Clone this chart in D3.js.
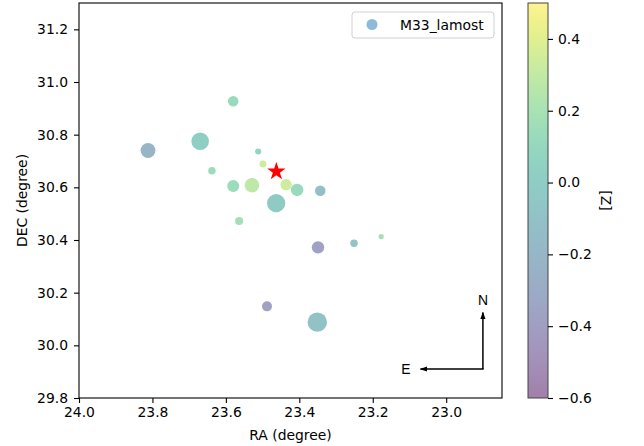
<!DOCTYPE html>
<html lang="en">

<head>
    <meta charset="UTF-8">
    <script src="https://d3js.org/d3.v7.min.js"></script>
    <title>M33 lamost</title>
    <style>
        body { margin: 0; background: #fff; }
        text { font-family: "DejaVu Sans", sans-serif; font-size: 13.9px; fill: #000; }
    </style>
</head>

<body>
    <script>
        var W = 644,
            H = 446;
        // plot box (pixels)
        var pLeft = 79, pRight = 502, pTop = 3, pBottom = 398;
        // colorbar box
        var cbLeft = 528, cbRight = 548;

        // data
        var ra = [23.812, 23.670, 23.580, 23.512, 23.499, 23.638, 23.580, 23.529, 23.436, 23.406,
            23.343, 23.463, 23.564, 23.349, 23.251, 23.177, 23.488, 23.351];
        var dec = [30.740, 30.775, 30.927, 30.736, 30.689, 30.663, 30.605, 30.608, 30.610, 30.590,
            30.587, 30.540, 30.472, 30.372, 30.388, 30.413, 30.148, 30.088];
        var feh = [-0.22, 0.02, 0.12, 0.08, 0.34, 0.14, 0.14, 0.28, 0.34, 0.13,
            -0.13, -0.02, 0.18, -0.38, -0.08, 0.18, -0.38, -0.10];
        var size = [100, 140, 50, 17, 22, 25, 65, 95, 58, 70,
            50, 150, 30, 70, 25, 12, 45, 170];
        var center = { ra: 23.4625, dec: 30.66 };
        var xTicks = [24.0, 23.8, 23.6, 23.4, 23.2, 23.0];
        var yTicks = [29.8, 30.0, 30.2, 30.4, 30.6, 30.8, 31.0, 31.2];
        var cTicks = [-0.6, -0.4, -0.2, 0.0, 0.2, 0.4];

        var svg = d3.select("body").append("svg").attr("width", W).attr("height", H);

        var x = d3.scaleLinear().domain([24.0, 22.848]).range([pLeft, pRight]);
        var y = d3.scaleLinear().domain([29.8, 31.3]).range([pBottom, pTop]);
        var c = d3.scaleLinear().domain([-0.6, 0.5]).range([pBottom, pTop]);
        var r = d3.scaleSqrt().domain([0, 170]).range([0, 9.7]);
        var fmt = function (d) { return d3.format(".1f")(d).replace("-", "\u2212"); };

        // points
        var pts = d3.range(ra.length);
        svg.append("g").selectAll("circle").data(pts).enter().append("circle")
            .attr("cx", function (i) { return x(ra[i]); })
            .attr("cy", function (i) { return y(dec[i]); })
            .attr("r", function (i) { return r(size[i]); })
            .attr("fill", function (i) { return d3.interpolateViridis((feh[i] + 0.6) / 1.1); })
            .attr("fill-opacity", 0.5);

        // red star at the centre
        var star = d3.symbol().type(d3.symbolStar).size(105);
        svg.append("path").attr("d", star())
            .attr("transform", "translate(" + x(center.ra) + "," + y(center.dec) + ")")
            .attr("fill", "red");

        // N / E arrows
        var defs = svg.append("defs");
        defs.append("marker").attr("id", "ah").attr("viewBox", "0 0 10 10")
            .attr("refX", 9).attr("refY", 5).attr("markerWidth", 5).attr("markerHeight", 5)
            .attr("orient", "auto")
            .append("path").attr("d", "M0,1.5 L10,5 L0,8.5 Z").attr("fill", "#000");
        var ax0 = x(22.9), ay0 = y(29.91);
        svg.append("line").attr("x1", ax0).attr("y1", ay0).attr("x2", ax0).attr("y2", y(30.125))
            .attr("stroke", "#000").attr("stroke-width", 1.5).attr("marker-end", "url(#ah)");
        svg.append("line").attr("x1", ax0 + 0.75).attr("y1", ay0).attr("x2", x(23.07)).attr("y2", ay0)
            .attr("stroke", "#000").attr("stroke-width", 1.5).attr("marker-end", "url(#ah)");
        svg.append("text").attr("x", ax0).attr("y", y(30.17)).attr("text-anchor", "middle")
            .attr("dy", "0.35em").style("font-family", "Liberation Sans, Arial, sans-serif").text("N");
        svg.append("text").attr("x", x(23.11)).attr("y", ay0).attr("text-anchor", "middle")
            .attr("dy", "0.35em").style("font-family", "Liberation Sans, Arial, sans-serif").text("E");

        // axes
        var xAxis = d3.axisBottom(x).tickValues(xTicks).tickFormat(fmt).tickSizeInner(5).tickSizeOuter(0).tickPadding(4);
        var yAxis = d3.axisLeft(y).tickValues(yTicks).tickFormat(fmt).tickSizeInner(5).tickSizeOuter(0).tickPadding(6);
        var gx = svg.append("g").attr("transform", "translate(0," + pBottom + ")").call(xAxis);
        var gy = svg.append("g").attr("transform", "translate(" + pLeft + ",0)").call(yAxis);
        [gx, gy].forEach(function (g) {
            g.select(".domain").remove();
            g.selectAll("text").style("font-size", "13.9px").style("font-family", "DejaVu Sans");
            g.selectAll("line").attr("stroke-width", 1.1);
        });
        svg.append("rect").attr("x", pLeft).attr("y", pTop).attr("width", pRight - pLeft).attr("height", pBottom - pTop)
            .attr("fill", "none").attr("stroke", "#000").attr("stroke-width", 1.1);

        svg.append("text").attr("x", (pLeft + pRight) / 2).attr("y", 440).attr("text-anchor", "middle").text("RA (degree)");
        svg.append("text").attr("transform", "translate(22," + (pTop + pBottom) / 2 + ") rotate(-90)")
            .attr("text-anchor", "middle").attr("dy", "0.35em").text("DEC (degree)");

        // legend
        var lg = svg.append("g");
        lg.append("rect").attr("x", 352).attr("y", 12).attr("width", 142).attr("height", 26).attr("rx", 3)
            .attr("fill", "#fff").attr("fill-opacity", 0.8).attr("stroke", "#d0d0d0");
        lg.append("circle").attr("cx", 372).attr("cy", 24.5).attr("r", 5.5)
            .attr("fill", "#1f77b4").attr("fill-opacity", 0.5);
        lg.append("text").attr("x", 400).attr("y", 29.5).text("M33_lamost");

        // colorbar
        var grad = defs.append("linearGradient").attr("id", "cg")
            .attr("x1", 0).attr("y1", 1).attr("x2", 0).attr("y2", 0);
        d3.range(0, 1.0001, 0.05).forEach(function (t) {
            grad.append("stop").attr("offset", t).attr("stop-color", d3.interpolateViridis(t));
        });
        svg.append("rect").attr("x", cbLeft).attr("y", pTop).attr("width", cbRight - cbLeft).attr("height", pBottom - pTop)
            .attr("fill", "url(#cg)").attr("fill-opacity", 0.5);
        svg.append("rect").attr("x", cbLeft).attr("y", pTop).attr("width", cbRight - cbLeft).attr("height", pBottom - pTop)
            .attr("fill", "none").attr("stroke", "#444").attr("stroke-width", 1);
        var cAxis = d3.axisRight(c).tickValues(cTicks).tickFormat(fmt).tickSizeInner(5).tickSizeOuter(0).tickPadding(5);
        var gc = svg.append("g").attr("transform", "translate(" + cbRight + ",0)").call(cAxis);
        gc.select(".domain").remove();
        gc.selectAll("text").style("font-size", "13.9px").style("font-family", "DejaVu Sans");
        gc.selectAll("line").attr("stroke-width", 1.1);
        svg.append("text").attr("transform", "translate(606," + (pTop + pBottom) / 2 + ") rotate(90)")
            .attr("text-anchor", "middle").attr("dy", "0.35em").text("[Z]");
    </script>
</body>

</html>
